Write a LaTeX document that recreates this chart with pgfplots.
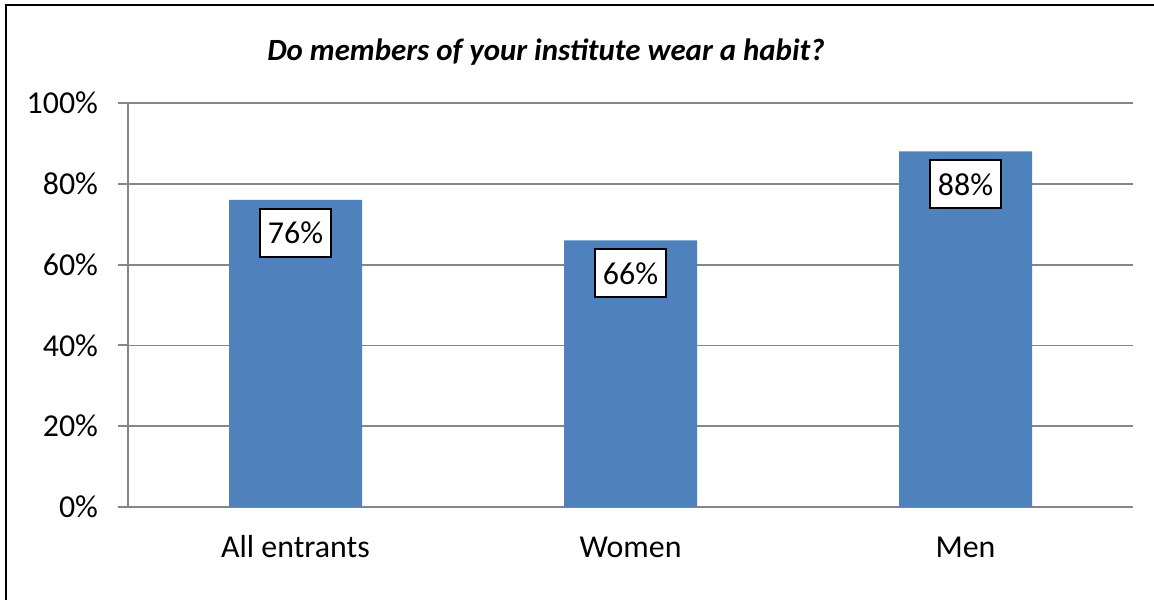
\documentclass[border=0pt]{standalone}
\usepackage{pgfplots}
\pgfplotsset{compat=1.18}
\usepackage{fontspec}
\setmainfont{Carlito}
\definecolor{barblue}{HTML}{4F81BD}
\definecolor{gridgray}{HTML}{868686}
\begin{document}
\begin{tikzpicture}[x=1bp,y=1bp]
\useasboundingbox (-64,-46) rectangle (513,253.5);
\begin{axis}[
  at={(0,0)}, anchor=south west,
  scale only axis,
  width=502.5bp, height=202bp,
  xmin=0.5, xmax=3.5, ymin=0, ymax=100,
  axis x line*=bottom, axis y line*=left,
  axis line style={gridgray, line width=1bp, -},
  ytick={0,20,40,60,80,100},
  yticklabels={0\%,20\%,40\%,60\%,80\%,100\%},
  ymajorgrids, grid style={gridgray, line width=0.9bp},
  xtick={1,2,3},
  xticklabels={All entrants,Women,Men},
  major x tick style={draw=none},
  extra x ticks={0.5,1.5,2.5,3.5},
  extra x tick labels={},
  extra x tick style={grid=none, tick style={gridgray, line width=1bp}, major tick length=5bp, tick align=outside},
  ytick style={gridgray, line width=1bp},
  tick align=outside,
  major tick length=5bp,
  ticklabel style={font=\fontsize{16}{19}\selectfont, text=black},
  /pgf/number format/assume math mode=true,
  yticklabel style={xshift=-6.5bp},
  xticklabel style={anchor=north, text height=11.5bp, text depth=3.5bp, yshift=-5bp},
  ybar, bar width=66.5bp,
  nodes near coords={\pgfmathprintnumber{\pgfplotspointmeta}\%},
  every node near coord/.append style={anchor=north, yshift=-4bp, fill=white, draw=black, line width=1bp,
    font=\fontsize{16}{19}\selectfont, text=black, inner xsep=4.2bp, minimum height=24bp},
]
\addplot[fill=barblue, draw=none] coordinates {(1,76) (2,66) (3,88)};
\end{axis}
\draw[black, line width=1.1bp] (-61,-60) -- (-61,251) -- (530,251);
\node[font=\fontsize{15.5}{18}\selectfont\bfseries\itshape] at (209,227.5) {Do members of your institute wear a habit?};
\end{tikzpicture}
\end{document}
